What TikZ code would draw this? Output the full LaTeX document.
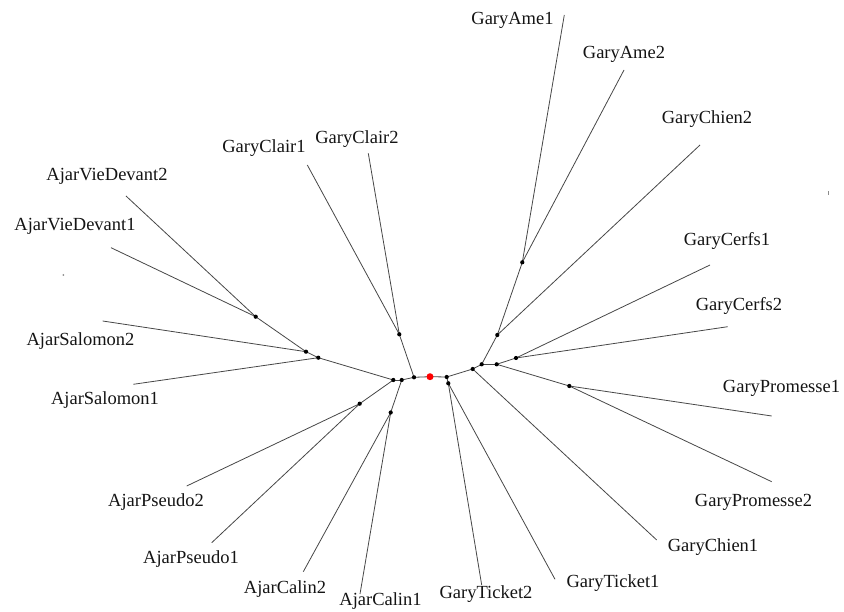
\documentclass[tikz,border=0pt]{standalone}
\usepackage{fontspec}
\setmainfont{Liberation Serif}
\begin{document}
\begin{tikzpicture}[x=1pt,y=-1pt,
  edge/.style={draw=black!72, line width=0.8pt},
  innerdot/.style={circle, fill=black, inner sep=0pt, minimum size=4.2pt},
  rootdot/.style={circle, fill=red, inner sep=0pt, minimum size=7pt},
  speck/.style={circle, fill=black!45, inner sep=0pt, minimum size=2pt},
  lbl/.style={font=\fontsize{18.5}{20}\selectfont, inner sep=0pt, anchor=center, text=black!92}]
\useasboundingbox (0,0) rectangle (844,612);

% internal nodes
\coordinate (R)  at (430,376.7);
\coordinate (A)  at (414,377.3);
\coordinate (C)  at (399.3,334.3);
\coordinate (B)  at (401.7,380);
\coordinate (Cal) at (390.7,412.5);
\coordinate (D)  at (393.3,380);
\coordinate (Ps) at (359.7,403.7);
\coordinate (E)  at (318.3,357.7);
\coordinate (F)  at (306,351.7);
\coordinate (G)  at (255.7,316.7);
\coordinate (H)  at (446.7,377);
\coordinate (T)  at (448.3,383.3);
\coordinate (I)  at (472.7,369);
\coordinate (J)  at (481.7,364.3);
\coordinate (M)  at (497.3,335);
\coordinate (L)  at (522.3,262.3);
\coordinate (K)  at (496.7,364.3);
\coordinate (Cf) at (516,358);
\coordinate (Pr) at (569.3,386);

% leaf ends
\coordinate (eAme1) at (564.3,15);
\coordinate (eAme2) at (624,70);
\coordinate (eChien2) at (700,145);
\coordinate (eCerfs1) at (710,265);
\coordinate (eCerfs2) at (727.7,326.7);
\coordinate (eProm1) at (771.7,416);
\coordinate (eProm2) at (771.7,481.7);
\coordinate (eChien1) at (656.7,540);
\coordinate (eTick1) at (555,579.3);
\coordinate (eTick2) at (481.7,585);
\coordinate (eCalin1) at (360,594);
\coordinate (eCalin2) at (303.3,571.7);
\coordinate (ePs1) at (211.7,542.7);
\coordinate (ePs2) at (186.7,486);
\coordinate (eSal1) at (133.3,384.3);
\coordinate (eSal2) at (102.7,321);
\coordinate (eVD1) at (111,247.7);
\coordinate (eVD2) at (126,196);
\coordinate (eCl1) at (307.3,165);
\coordinate (eCl2) at (368.3,153.3);

% edges
\draw[edge] (R) -- (A);
\draw[edge] (A) -- (C);
\draw[edge] (C) -- (eCl1);
\draw[edge] (C) -- (eCl2);
\draw[edge] (A) -- (B);
\draw[edge] (B) -- (Cal);
\draw[edge] (Cal) -- (eCalin1);
\draw[edge] (Cal) -- (eCalin2);
\draw[edge] (B) -- (D);
\draw[edge] (D) -- (Ps);
\draw[edge] (Ps) -- (ePs1);
\draw[edge] (Ps) -- (ePs2);
\draw[edge] (D) -- (E);
\draw[edge] (E) -- (eSal1);
\draw[edge] (E) -- (F);
\draw[edge] (F) -- (eSal2);
\draw[edge] (F) -- (G);
\draw[edge] (G) -- (eVD1);
\draw[edge] (G) -- (eVD2);
\draw[edge] (R) -- (H);
\draw[edge] (H) -- (T);
\draw[edge] (T) -- (eTick1);
\draw[edge] (T) -- (eTick2);
\draw[edge] (H) -- (I);
\draw[edge] (I) -- (eChien1);
\draw[edge] (I) -- (J);
\draw[edge] (J) -- (M);
\draw[edge] (M) -- (eChien2);
\draw[edge] (M) -- (L);
\draw[edge] (L) -- (eAme1);
\draw[edge] (L) -- (eAme2);
\draw[edge] (J) -- (K);
\draw[edge] (K) -- (Cf);
\draw[edge] (Cf) -- (eCerfs1);
\draw[edge] (Cf) -- (eCerfs2);
\draw[edge] (K) -- (Pr);
\draw[edge] (Pr) -- (eProm1);
\draw[edge] (Pr) -- (eProm2);

% dots
\foreach \n in {A,C,B,Cal,D,Ps,E,F,G,H,T,I,J,M,L,K,Cf,Pr}
  \node[innerdot] (dot\n) at (\n) {};
\node[rootdot] (rootnode) at (R) {};

% stray specks
\node[speck] (speck1) at (63.3,275) {};
\node[speck, minimum width=1.6pt, minimum height=4pt, rectangle] (speck2) at (828.3,193.3) {};

% labels
\node[lbl] (lAme1) at (512.5,20) {GaryAme1};
\node[lbl] (lAme2) at (624,54) {GaryAme2};
\node[lbl] (lChien2) at (707,119) {GaryChien2};
\node[lbl] (lCerfs1) at (727,241) {GaryCerfs1};
\node[lbl] (lCerfs2) at (739,306) {GaryCerfs2};
\node[lbl] (lProm1) at (781.5,388) {GaryPromesse1};
\node[lbl] (lProm2) at (753.5,502) {GaryPromesse2};
\node[lbl] (lChien1) at (713,547) {GaryChien1};
\node[lbl] (lTick1) at (613,583) {GaryTicket1};
\node[lbl] (lTick2) at (486,594) {GaryTicket2};
\node[lbl] (lCalin1) at (380.5,601) {AjarCalin1};
\node[lbl] (lCalin2) at (285,589) {AjarCalin2};
\node[lbl] (lPs1) at (191,559) {AjarPseudo1};
\node[lbl] (lPs2) at (156,502) {AjarPseudo2};
\node[lbl] (lSal1) at (105,400) {AjarSalomon1};
\node[lbl] (lSal2) at (80.5,341) {AjarSalomon2};
\node[lbl] (lVD1) at (75,226) {AjarVieDevant1};
\node[lbl] (lVD2) at (107,176) {AjarVieDevant2};
\node[lbl] (lCl1) at (264,148) {GaryClair1};
\node[lbl] (lCl2) at (357,139) {GaryClair2};
\end{tikzpicture}
\end{document}
